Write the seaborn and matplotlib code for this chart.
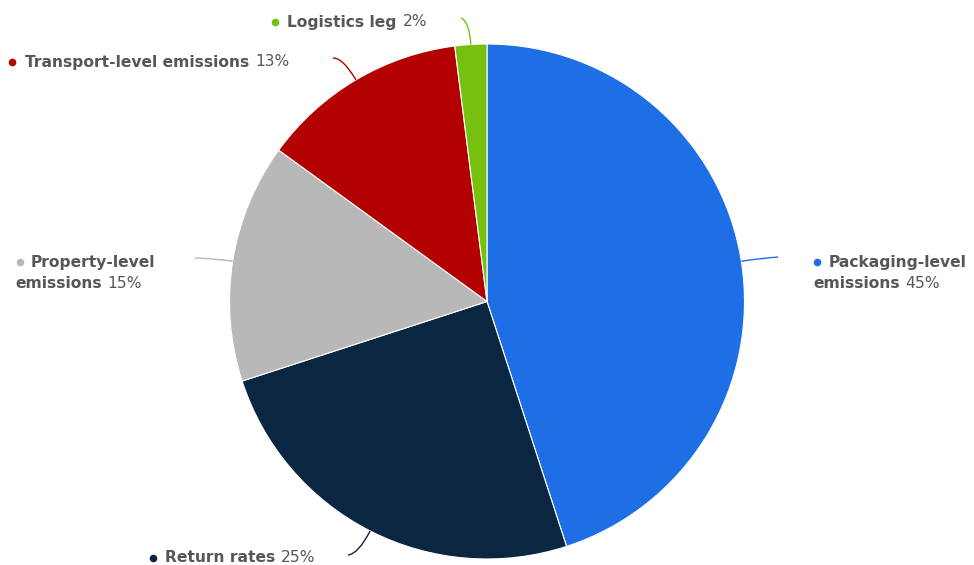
import matplotlib
matplotlib.use("Agg")
import matplotlib.pyplot as plt
import seaborn as sns
import numpy as np
from matplotlib.path import Path
from matplotlib.patches import PathPatch

# Shares of e-commerce emissions by source
categories = ["Packaging-level emissions", "Return rates", "Property-level emissions",
              "Transport-level emissions", "Logistics leg"]
shares = [45, 25, 15, 13, 2]
colors = ["#1e6fe6", "#0b2640", "#b8b8b8", "#b30000", "#76c00f"]

# How each label is broken into lines (bold name parts) for display
label_lines = {
    "Packaging-level emissions": ["Packaging-level", "emissions"],
    "Return rates": ["Return rates"],
    "Property-level emissions": ["Property-level", "emissions"],
    "Transport-level emissions": ["Transport-level emissions"],
    "Logistics leg": ["Logistics leg"],
}

sns.set_theme(style="white")
plt.rcParams["font.family"] = ["DejaVu Sans"]
FONT = "DejaVu Sans"

W, H = 974, 565
CX, CY, R = 487, 301.5, 257.5

fig = plt.figure(figsize=(W / 100, H / 100), dpi=100)
ax = fig.add_axes([0, 0, 1, 1])

wedges, _ = ax.pie(shares, colors=colors, startangle=90, counterclock=False,
                   radius=1, center=(0, 0),
                   wedgeprops=dict(edgecolor="white", linewidth=0.8))

ax.set_xlim(-CX / R, (W - CX) / R)
ax.set_ylim(-(H - CY) / R, CY / R)
ax.set_aspect("equal")
ax.axis("off")


def px(x, y):
    """Pixel position (from top-left) to data coordinates."""
    return (x - CX) / R, (CY - y) / R


# Layout of each label: connector end point and text anchor (pixels)
layout = {
    "Packaging-level emissions": dict(end=(778, 257), ctrl=1.06, text=(829, 262), bullet=(817, 262), indent=813),
    "Return rates": dict(end=(348, 555), ctrl=1.10, text=(165, 558), bullet=(153, 558), indent=165),
    "Property-level emissions": dict(end=(195, 258), ctrl=1.06, text=(31, 262), bullet=(20, 262), indent=15),
    "Transport-level emissions": dict(end=(333, 58), ctrl=1.10, text=(25, 62), bullet=(12, 62), indent=25),
    "Logistics leg": dict(end=(461, 18), ctrl=1.09, text=(287, 22), bullet=(275, 22), indent=287),
}

text_color = "#575757"
fs = 11.2
line_h = 21
fig.canvas.draw()
renderer = fig.canvas.get_renderer()
inv = ax.transData.inverted()

cum = 0.0
total = float(sum(shares))
for cat, val, col in zip(categories, shares, colors):
    mid = (cum + val / 2) / total * 2 * np.pi
    cum += val
    lay = layout[cat]
    # curved connector from wedge edge to the label
    p0 = (np.sin(mid), np.cos(mid))
    p1 = (lay["ctrl"] * np.sin(mid), lay["ctrl"] * np.cos(mid))
    p2 = px(*lay["end"])
    path = Path([p0, p1, p2], [Path.MOVETO, Path.CURVE3, Path.CURVE3])
    ax.add_patch(PathPatch(path, facecolor="none", edgecolor=col, lw=1.0, clip_on=False))

    # bullet
    bx, by = px(*lay["bullet"])
    ax.plot([bx], [by], "o", color=col, markersize=5.5, markeredgewidth=0, clip_on=False)

    lines = label_lines[cat]
    for i, part in enumerate(lines):
        if i == 0:
            tx, ty = px(lay["text"][0], lay["text"][1])
        else:
            tx, ty = px(lay["indent"], lay["text"][1] + line_h * i)
        t = ax.text(tx, ty, part, fontsize=fs, fontweight="bold", color=text_color,
                    ha="left", va="center", family=FONT)
        if i == len(lines) - 1:
            bb = t.get_window_extent(renderer)
            x_end = inv.transform((bb.x1, bb.y0))[0]
            ax.text(x_end + 6 / R, ty, f"{val}%", fontsize=fs, color=text_color,
                    ha="left", va="center", family=FONT)

fig.savefig("out.png", dpi=100)
